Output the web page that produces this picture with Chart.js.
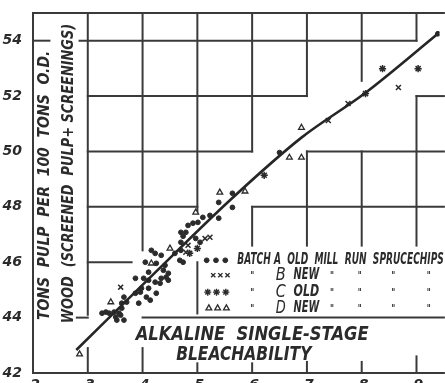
<!DOCTYPE html>
<html>
<head>
<meta charset="utf-8">
<script src="https://cdn.jsdelivr.net/npm/chart.js@4/dist/chart.umd.min.js"></script>
<style>
html, body { margin: 0; padding: 0; background: #fff; overflow: hidden; }
#wrap { width: 445px; height: 383px; overflow: hidden; }
</style>
</head>
<body>
<div id="wrap"><canvas id="bleach_chart" width="445" height="400"></canvas></div>
<script>
// batch A - old mill run spruce chips (dots)
const batchA_x = [9.39, 6.50, 5.64, 5.39, 5.64, 5.39, 5.10, 5.23, 4.83, 4.92, 5.01, 4.70, 4.79, 4.74, 4.97, 5.05, 4.70, 4.70, 4.16, 4.23,
                  4.34, 4.59, 4.68, 4.74, 4.05, 4.25, 4.41, 4.38, 4.47, 4.11, 3.87, 4.02, 4.34, 4.47, 4.23, 4.32, 4.11, 3.98, 3.87, 3.96,
                  4.25, 4.07, 4.14, 3.93, 3.66, 3.62, 3.71, 3.62, 3.33, 3.39, 3.48, 3.57, 3.26, 3.53, 3.66, 3.60, 3.51, 4.43, 4.11];
const batchA_y = [54.25, 49.96, 48.49, 48.16, 47.98, 47.59, 47.62, 47.69, 47.33, 47.41, 47.44, 47.08, 47.08, 46.94, 46.86, 46.72, 46.72, 46.43, 46.43, 46.32,
                  46.25, 46.32, 46.07, 46.00, 46.00, 45.96, 45.89, 45.71, 45.60, 45.64, 45.42, 45.42, 45.42, 45.35, 45.28, 45.24, 45.35, 45.06, 44.88, 44.92,
                  44.88, 44.74, 44.63, 44.52, 44.74, 44.52, 44.56, 44.34, 44.20, 44.16, 44.20, 44.16, 44.16, 43.91, 43.91, 44.09, 44.02, 45.46, 45.06];
// batch B - new
const batchB_x = [3.60, 5.14, 4.83, 4.79, 7.39, 7.75, 8.67, 5.23];
const batchB_y = [45.10, 46.86, 46.61, 46.36, 51.12, 51.73, 52.31, 46.90];
// batch C - old
const batchC_x = [8.38, 9.03, 8.07, 6.22, 4.86, 5.00];
const batchC_y = [52.99, 52.99, 52.09, 49.14, 46.32, 46.50];
// batch D - new
const batchD_x = [2.85, 3.42, 4.50, 4.16, 4.97, 5.41, 5.87, 6.68, 6.90, 6.90];
const batchD_y = [42.68, 44.56, 46.50, 45.96, 47.80, 48.52, 48.56, 49.78, 49.78, 50.86];
// hand drawn curve through the points
const curve_x = [2.79, 4.20, 5.59, 6.90, 8.07, 9.39];
const curve_y = [42.83, 45.57, 48.23, 50.50, 52.12, 54.25];

const xTicks = [2, 3, 4, 5, 6, 7, 8, 9];
const yTicks = [42, 44, 46, 48, 50, 52, 54];

const yTitle = ['TONS  PULP  PER  100  TONS  O.D.', 'WOOD  (SCREENED  PULP+ SCREENINGS)'];
const chartTitle = ['ALKALINE  SINGLE-STAGE', 'BLEACHABILITY'];
const legendHead = 'BATCH A  OLD  MILL  RUN  SPRUCECHIPS';
const legendLetters = ['B', 'C', 'D'];
const legendWords = ['NEW', 'OLD', 'NEW'];

const INK = '#2b2b2b';

function pts(xs, ys) { return xs.map((x, i) => ({x: x, y: ys[i]})); }

// broken grid of the old chart paper, in data units [x1, y1, x2, y2]
const gridSegs = [
    [2, 42, 2, 55], [2, 55, 9.5, 55], [2, 42, 9.5, 42],
    [3, 55, 3, 44.1], [3, 42, 3, 42.9],
    [4, 55, 4, 46.43], [4, 42, 4, 42.9],
    [5, 55, 5, 47.77], [5, 46, 5, 44.15], [5, 42, 5, 42.35],
    [6, 55, 6, 50], [6, 48, 6, 46.6], [6, 42, 6, 42.35],
    [7, 55, 7, 52], [7, 50, 7, 46.6], [7, 42, 7, 42.4],
    [8, 55, 8, 52.55], [8, 50, 8, 46.6], [8, 42, 8, 42.4],
    [9, 55, 9, 54], [9, 52, 9, 46.6], [9, 42, 9, 42.6],
    [2, 54, 2.3, 54], [2.85, 54, 9, 54],
    [3, 52, 7, 52], [9, 52, 9.5, 52],
    [3, 50, 6, 50], [7, 50, 9.5, 50],
    [3, 48, 5, 48], [6, 48, 9.5, 48],
    [3, 46, 3.8, 46],
    [2.8, 44, 3, 44], [4, 44, 9.5, 44]
];

function fitText(ctx, text, cx, cy, len, font, rot) {
    ctx.save();
    ctx.font = font;
    const w = ctx.measureText(text).width;
    ctx.translate(cx, cy);
    if (rot) ctx.rotate(rot);
    ctx.scale(len / w, 1);
    ctx.textAlign = 'center';
    ctx.textBaseline = 'middle';
    ctx.fillStyle = INK;
    ctx.fillText(text, 0, 0);
    ctx.restore();
}

const paperPlugin = {
    id: 'paper',
    beforeDatasetsDraw(chart) {
        const ctx = chart.ctx, sx = chart.scales.x, sy = chart.scales.y;
        ctx.save();
        ctx.strokeStyle = '#3a3a3a';
        ctx.lineWidth = 2;
        ctx.lineCap = 'square';
        gridSegs.forEach(s => {
            ctx.beginPath();
            ctx.moveTo(sx.getPixelForValue(s[0]), sy.getPixelForValue(s[1]));
            ctx.lineTo(sx.getPixelForValue(s[2]), sy.getPixelForValue(s[3]));
            ctx.stroke();
        });
        ctx.restore();
    },
    afterDatasetsDraw(chart) {
        const ctx = chart.ctx, sx = chart.scales.x, sy = chart.scales.y;
        const X = v => sx.getPixelForValue(v), Y = v => sy.getPixelForValue(v);
        const F = 'italic bold 16px "DejaVu Sans"';

        // x tick labels, cut by the bottom edge as in the scan
        ctx.save();
        ctx.font = 'italic bold 14px "DejaVu Sans"';
        ctx.fillStyle = INK;
        ctx.textAlign = 'center';
        ctx.textBaseline = 'top';
        xTicks.forEach(v => ctx.fillText(String(v), X(v) + 2, Y(42) + 5));
        ctx.restore();

        // y axis title, two rotated lines
        fitText(ctx, yTitle[0], X(2.216), (Y(43.91) + Y(53.64)) / 2, Y(43.91) - Y(53.64), F, -Math.PI / 2);
        fitText(ctx, yTitle[1], X(2.649), (Y(43.80) + Y(54.61)) / 2, Y(43.80) - Y(54.61), F, -Math.PI / 2);

        // title at the bottom
        const TF = 'italic bold 19px "DejaVu Sans"';
        fitText(ctx, chartTitle[0], (X(3.874) + X(8.126)) / 2, Y(43.37), X(8.126) - X(3.874), TF);
        fitText(ctx, chartTitle[1], (X(4.613) + X(7.081)) / 2, Y(42.65), X(7.081) - X(4.613), TF);

        // legend block
        const LF = 'italic bold 15px "DejaVu Sans"';
        const rowY = [46.07, 45.53, 44.92, 44.34];
        fitText(ctx, legendHead, (X(5.73) + X(9.50)) / 2, Y(rowY[0]), X(9.50) - X(5.73), LF);
        const ditto = [7.459, 7.964, 8.577, 9.225];
        for (let r = 0; r < 3; r++) {
            const yy = Y(rowY[r + 1]);
            fitText(ctx, '"', X(6.0), yy + 1, 4, 'bold 10px "DejaVu Sans"');
            fitText(ctx, legendLetters[r], X(6.52), yy, 10, 'italic 17px "DejaVu Sans"');
            fitText(ctx, legendWords[r], (X(6.757) + X(7.225)) / 2, yy, X(7.225) - X(6.757), LF);
            ditto.forEach(d => fitText(ctx, '"', X(d), yy + 1, 4, 'bold 10px "DejaVu Sans"'));
        }
        const syms = [
            {style: 'circle', r: 2.4, bw: 1, fill: INK, xs: [5.17, 5.34, 5.51]},
            {style: 'crossRot', r: 3, bw: 1.4, fill: INK, xs: [5.29, 5.42, 5.55]},
            {style: 'star', r: 3.5, bw: 1.4, fill: INK, xs: [5.19, 5.35, 5.52]},
            {style: 'triangle', r: 3.3, bw: 1.3, fill: '#fff', xs: [5.21, 5.37, 5.53]}
        ];
        syms.forEach((s, i) => {
            s.xs.forEach(x => {
                ctx.save();
                ctx.fillStyle = s.fill;
                ctx.strokeStyle = INK;
                ctx.lineWidth = s.bw;
                Chart.helpers.drawPoint(ctx, {pointStyle: s.style, radius: s.r, borderWidth: s.bw, rotation: 0}, X(x), Y(rowY[i]));
                ctx.restore();
            });
        });
    }
};

const tickFont = {family: 'DejaVu Sans', size: 14, weight: 'bold', style: 'italic'};

new Chart(document.getElementById('bleach_chart'), {
    type: 'scatter',
    data: {
        datasets: [
            {
                type: 'line',
                data: pts(curve_x, curve_y),
                borderColor: '#262626',
                borderWidth: 2.6,
                pointRadius: 0,
                cubicInterpolationMode: 'monotone',
                fill: false
            },
            {
                data: pts(batchA_x, batchA_y),
                pointStyle: 'circle', pointRadius: 2.4,
                backgroundColor: INK, borderColor: INK, borderWidth: 1
            },
            {
                data: pts(batchB_x, batchB_y),
                pointStyle: 'crossRot', pointRadius: 3.5,
                backgroundColor: INK, borderColor: INK, borderWidth: 1.5
            },
            {
                data: pts(batchC_x, batchC_y),
                pointStyle: 'star', pointRadius: 3.6,
                backgroundColor: INK, borderColor: INK, borderWidth: 1.5
            },
            {
                data: pts(batchD_x, batchD_y),
                pointStyle: 'triangle', pointRadius: 3.3,
                backgroundColor: '#fff', borderColor: INK, borderWidth: 1.3
            }
        ]
    },
    options: {
        responsive: false,
        animation: false,
        layout: { padding: { top: 13, right: 0, left: 0, bottom: 0 } },
        plugins: { legend: { display: false }, tooltip: { enabled: false } },
        scales: {
            x: {
                type: 'linear', min: 2, max: 9.42,
                grid: { display: false }, border: { display: false },
                ticks: { display: false },
                afterBuildTicks: s => { s.ticks = xTicks.map(v => ({value: v})); },
                afterFit: s => { s.height = 27; }
            },
            y: {
                min: 42, max: 55,
                grid: { display: false }, border: { display: false },
                ticks: { font: tickFont, color: INK, padding: 3 },
                afterBuildTicks: s => { s.ticks = yTicks.map(v => ({value: v})); },
                afterFit: s => { s.width = 33; }
            }
        }
    },
    plugins: [paperPlugin]
});
</script>
</body>
</html>
